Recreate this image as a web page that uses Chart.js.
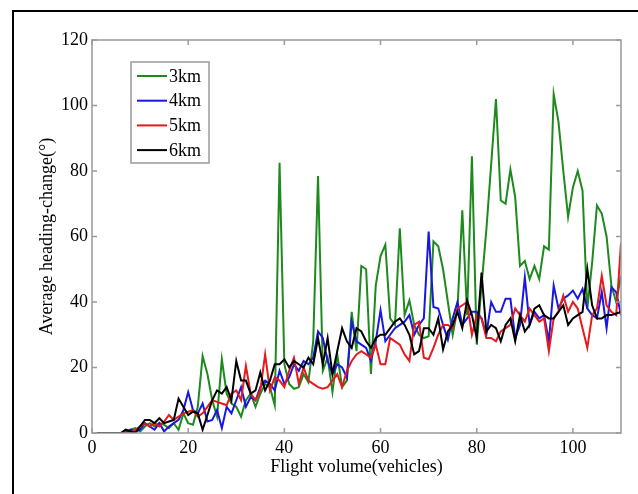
<!DOCTYPE html>
<html>
<head>
<meta charset="utf-8">
<script src="https://cdn.jsdelivr.net/npm/chart.js@4"></script>
<style>
  html, body { margin: 0; padding: 0; background: #fff; overflow: hidden; }
  #frame { position: absolute; left: 12px; top: 10px; width: 640px; height: 500px; border: 2px solid #000; box-sizing: border-box; }
  #wrap { position: absolute; left: 0; top: 0; width: 638px; height: 494px; }
</style>
</head>
<body>
<div id="frame"></div>
<div id="wrap"><canvas id="myChart" width="638" height="494"></canvas></div>
<script>
const volume = [
    1, 2, 3, 4, 5, 6, 7, 8, 9, 10,
    11, 12, 13, 14, 15, 16, 17, 18, 19, 20,
    21, 22, 23, 24, 25, 26, 27, 28, 29, 30,
    31, 32, 33, 34, 35, 36, 37, 38, 39, 40,
    41, 42, 43, 44, 45, 46, 47, 48, 49, 50,
    51, 52, 53, 54, 55, 56, 57, 58, 59, 60,
    61, 62, 63, 64, 65, 66, 67, 68, 69, 70,
    71, 72, 73, 74, 75, 76, 77, 78, 79, 80,
    81, 82, 83, 84, 85, 86, 87, 88, 89, 90,
    91, 92, 93, 94, 95, 96, 97, 98, 99, 100,
    101, 102, 103, 104, 105, 106, 107, 108, 109, 110
];

const heading3km = [
    0, 0, 0, 0, 0, 0, 0.5, 1, 1.5, 0.5,
    2, 3, 2, 3, 2.5, 1.5, 3, 1, 6, 3,
    2.5, 8, 23.5, 18, 10, 5, 22.5, 12, 9, 8,
    5, 10, 12, 8, 12, 15, 14, 8.5, 82.5, 21,
    15, 13.5, 14, 18, 15.5, 28, 78.5, 19, 23, 12.5,
    24, 14, 16, 37, 25, 51, 50, 18, 45, 54,
    57.5, 35, 33, 62.5, 36, 40.5, 33, 30, 29, 29.5,
    58.5, 57, 50, 40, 30, 38, 68, 36, 84.5, 27,
    45, 62, 82, 102, 71, 70, 80.5, 72, 51, 52.5,
    47, 51, 47, 57, 56, 103.5, 95, 80, 66, 75,
    80, 74, 38, 52, 69.5, 67, 60, 45, 40, 48
];

const heading4km = [
    0, 0, 0, 0, 0, 0, 0, 1, 0.5, 1,
    3, 2, 1, 3, 0.5, 2, 3, 4, 7, 12.5,
    7, 6, 9, 3.5, 4, 7, 1.5, 8, 6, 10,
    14, 8, 11, 10, 14, 16, 15, 13, 19, 15,
    17, 21, 19, 22, 21, 23, 31, 29, 22, 18,
    21, 20, 17, 34, 28, 27, 26, 22, 28, 37.5,
    28, 30, 32, 33, 34, 36, 30, 33, 35, 61.5,
    38.5, 38, 33, 28.5, 35, 40, 33, 35, 37, 37,
    35, 30, 40, 37, 37, 41, 41, 29, 33, 47.5,
    33, 37, 35, 36, 28, 45, 38, 41, 42, 43.5,
    41, 44, 38, 36, 35, 43, 32, 44.5, 43, 36
];

const heading5km = [
    0, 0, 0, 0, 0, 0, 0, 0, 1, 2,
    3, 2, 3, 2, 3.5, 5.5, 4, 5, 6, 6.5,
    7, 5, 6, 8, 10, 9.5, 9, 8.5, 12, 13,
    10, 20.5, 12, 10, 13, 24, 13, 17, 16, 14,
    19, 23, 15, 20, 16, 15, 14, 13.5, 14, 16,
    18, 14, 19, 22, 24, 25, 24, 23, 27, 21,
    21, 29, 28, 27, 24, 22, 33, 34, 23, 22.5,
    26, 30, 33, 33, 32, 38, 39, 40, 30, 36,
    35, 29, 29, 28, 31, 32, 33, 38, 36, 34,
    38, 36, 34, 35, 25, 35, 37, 42, 37, 40,
    38, 32, 26, 36, 38, 48, 39, 37, 36, 58
];

const heading6km = [
    0, 0, 0, 0, 0, 0, 1, 0.5, 0, 2,
    4, 4, 3, 4.5, 3, 3.5, 4, 10.5, 8, 5.5,
    6.5, 6, 1, 5.5, 10, 13, 12, 14, 10, 22,
    16, 16, 12, 13, 18.5, 13, 16, 21, 21, 22.5,
    20, 22, 21, 20, 23, 21, 29, 21, 29, 18,
    25, 32, 28, 26, 32, 31, 28, 26, 29, 30,
    30, 32, 34, 35, 33, 30, 24, 25, 32, 32,
    30, 35, 25.5, 31, 33, 37, 32, 40.5, 36, 29,
    49, 31, 33, 32, 28, 33, 35, 28, 36, 31,
    33, 38, 39, 36, 35, 35, 37, 39, 33, 35,
    36, 37, 50, 39, 35, 35, 36, 36, 36.5, 37
];

const seriesNames = ['3km', '4km', '5km', '6km'];
const seriesColors = ['#1e8a1e', '#1818e0', '#e41a1c', '#000000'];
const xTicks = [0, 20, 40, 60, 80, 100];
const yTicks = [0, 20, 40, 60, 80, 100, 120];

const serif = 'Liberation Serif';
const axisGray = '#9a9a9a';

function pairUp(values) {
    return values.map((v, i) => ({ x: volume[i], y: v }));
}

// MATLAB-style box with inward ticks
const boxTicks = {
    id: 'boxTicks',
    afterDraw(chart) {
        const { ctx, chartArea: a, scales } = chart;
        const len = 5;
        ctx.save();
        ctx.strokeStyle = axisGray;
        ctx.lineWidth = 1.5;
        ctx.strokeRect(a.left, a.top, a.right - a.left, a.bottom - a.top);
        ctx.beginPath();
        xTicks.forEach(t => {
            const px = scales.x.getPixelForValue(t);
            ctx.moveTo(px, a.bottom); ctx.lineTo(px, a.bottom - len);
            ctx.moveTo(px, a.top); ctx.lineTo(px, a.top + len);
        });
        yTicks.forEach(t => {
            const py = scales.y.getPixelForValue(t);
            ctx.moveTo(a.left, py); ctx.lineTo(a.left + len, py);
            ctx.moveTo(a.right, py); ctx.lineTo(a.right - len, py);
        });
        ctx.stroke();
        ctx.restore();
    }
};

// legend box in the upper left of the plot
const insetLegend = {
    id: 'insetLegend',
    afterDraw(chart) {
        const { ctx } = chart;
        const bx = 131, by = 62, bw = 78, bh = 101;
        ctx.save();
        ctx.fillStyle = '#fff';
        ctx.fillRect(bx, by, bw, bh);
        ctx.strokeStyle = axisGray;
        ctx.lineWidth = 1.5;
        ctx.strokeRect(bx, by, bw, bh);
        ctx.font = '18px "' + serif + '"';
        ctx.textBaseline = 'middle';
        chart.data.datasets.forEach((ds, i) => {
            const y = 76 + i * 24.7;
            ctx.strokeStyle = ds.borderColor;
            ctx.lineWidth = 2;
            ctx.beginPath();
            ctx.moveTo(137, y);
            ctx.lineTo(167, y);
            ctx.stroke();
            ctx.fillStyle = '#000';
            ctx.fillText(ds.label, 169, y + 1);
        });
        ctx.restore();
    }
};

const ctx = document.getElementById('myChart');
const allSeries = [heading3km, heading4km, heading5km, heading6km];

new Chart(ctx, {
    type: 'line',
    data: {
        datasets: allSeries.map((vals, i) => ({
            label: seriesNames[i],
            data: pairUp(vals),
            borderColor: seriesColors[i],
            backgroundColor: seriesColors[i],
            borderWidth: 2,
            pointRadius: 0,
            tension: 0,
            order: 4 - i,
        }))
    },
    options: {
        responsive: false,
        animation: false,
        layout: { padding: { left: 0, top: 40, right: 17, bottom: 0 } },
        plugins: {
            legend: { display: false },
            tooltip: { enabled: false },
        },
        scales: {
            x: {
                type: 'linear',
                min: 0,
                max: 110,
                afterBuildTicks: s => { s.ticks = xTicks.map(v => ({ value: v })); },
                afterFit: s => { s.height = 61; },
                grid: { display: false, drawTicks: false },
                border: { display: false },
                ticks: {
                    padding: 4,
                    color: '#000',
                    font: { family: serif, size: 18 },
                    maxRotation: 0,
                },
                title: {
                    display: true,
                    text: 'Flight volume(vehicles)',
                    color: '#000',
                    font: { family: serif, size: 18 },
                    padding: { top: 0, bottom: 16 },
                }
            },
            y: {
                min: 0,
                max: 120,
                afterBuildTicks: s => { s.ticks = yTicks.map(v => ({ value: v })); },
                afterFit: s => { s.width = 92; },
                grid: { display: false, drawTicks: false },
                border: { display: false },
                ticks: {
                    padding: 4,
                    color: '#000',
                    font: { family: serif, size: 18 },
                },
                title: {
                    display: true,
                    text: 'Average heading-change(°)',
                    color: '#000',
                    font: { family: serif, size: 18 },
                    padding: { top: 36, bottom: 0 },
                }
            }
        }
    },
    plugins: [boxTicks, insetLegend]
});
</script>
</body>
</html>
